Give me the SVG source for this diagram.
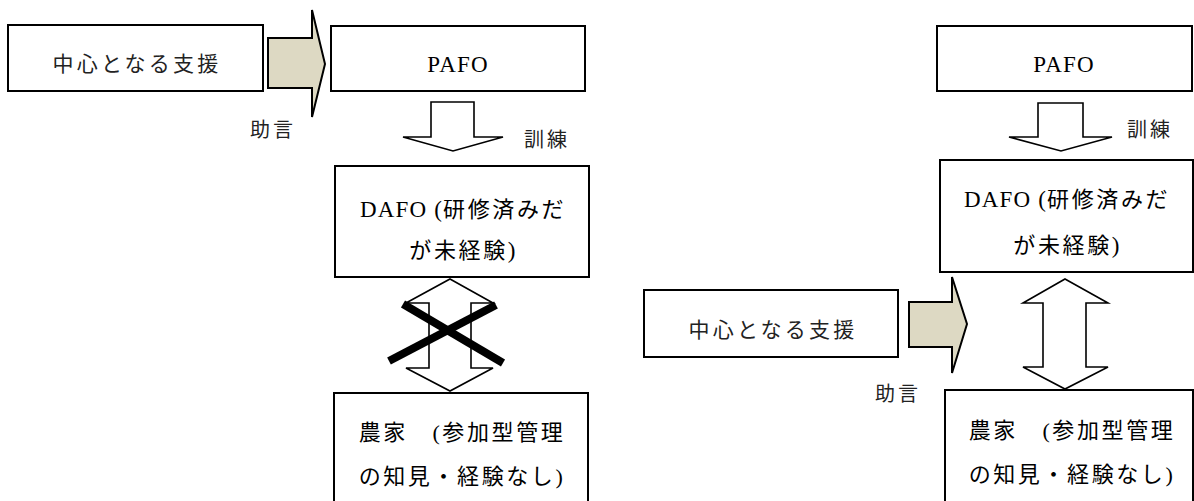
<svg xmlns="http://www.w3.org/2000/svg" width="1194" height="501" viewBox="0 0 1194 501">
<style>
.box{fill:#fff;stroke:#000;stroke-width:2}
.fat{fill:#DDD9C3;stroke:#000;stroke-width:2;stroke-linejoin:miter}
.hollow{fill:#fff;stroke:#000;stroke-width:1.6;stroke-linejoin:miter}
.cross{stroke:#000;stroke-width:8;stroke-linecap:butt}
.jp{font-family:"Liberation Serif","Noto Sans CJK JP",serif;font-size:22px;letter-spacing:2.6px;fill:#000}
.lat{font-size:23px;letter-spacing:1.2px}
.gs{font-family:"Noto Sans CJK JP","Liberation Sans",sans-serif;font-size:21px;letter-spacing:3.2px;fill:#222}
.lbl{font-family:"Noto Sans CJK JP","Liberation Sans",sans-serif;font-size:20px;letter-spacing:3px;fill:#222}
</style>
<rect width="1194" height="501" fill="#fff"/>

<!-- Left diagram -->
<g id="support-left">
<rect class="box" x="8" y="25" width="255" height="66"/>
<text class="gs" x="137" y="71" text-anchor="middle">中心となる支援</text>
</g>
<g id="pafo-left">
<rect class="box" x="331" y="26" width="254" height="65"/>
<text class="jp lat" x="458" y="72" text-anchor="middle">PAFO</text>
</g>
<g id="dafo-left">
<rect class="box" x="335" y="166" width="254" height="111"/>
<text class="jp" x="463" y="217" text-anchor="middle"><tspan class="lat">DAFO (</tspan>研修済みだ</text>
<text class="jp" x="463" y="258" text-anchor="middle">が未経験<tspan class="lat">)</tspan></text>
</g>
<g id="farmer-left">
<rect class="box" x="334" y="393" width="254" height="130"/>
<text class="jp" x="462" y="440" text-anchor="middle">農家　(参加型管理</text>
<text class="jp" x="462" y="484" text-anchor="middle">の知見・経験なし)</text>
</g>

<!-- Right diagram -->
<g id="pafo-right">
<rect class="box" x="937" y="26" width="255" height="65"/>
<text class="jp lat" x="1064" y="72" text-anchor="middle">PAFO</text>
</g>
<g id="dafo-right">
<rect class="box" x="940" y="160" width="253" height="112"/>
<text class="jp" x="1067" y="207" text-anchor="middle"><tspan class="lat">DAFO (</tspan>研修済みだ</text>
<text class="jp" x="1067" y="253" text-anchor="middle">が未経験<tspan class="lat">)</tspan></text>
</g>
<g id="support-right">
<rect class="box" x="644" y="290" width="254" height="67"/>
<text class="gs" x="773" y="337" text-anchor="middle">中心となる支援</text>
</g>
<g id="farmer-right">
<rect class="box" x="945" y="390" width="248" height="130"/>
<text class="jp" x="1072" y="438" text-anchor="middle">農家　(参加型管理</text>
<text class="jp" x="1072" y="482" text-anchor="middle">の知見・経験なし)</text>
</g>

<g id="connectors">
<!-- left: support -> PAFO -->
<polygon class="fat" points="268,38 312,38 312,10 325,64 312,117 312,88 268,88"/>
<text class="lbl" x="250" y="137">助言</text>
<!-- left: PAFO -> DAFO -->
<polygon class="hollow" points="431,102 474,102 474,137 503,137 453,151 403,137 431,137"/>
<text class="lbl" x="524" y="147">訓練</text>
<!-- left: DAFO <-> farmer (crossed out) -->
<polygon class="hollow" points="450,279 493,303 471,303 471,368 493,368 450,391 406,368 429,368 429,303 406,303"/>
<line class="cross" x1="403" y1="304" x2="503" y2="363"/>
<line class="cross" x1="496" y1="305" x2="389" y2="361"/>

<!-- right: PAFO -> DAFO -->
<polygon class="hollow" points="1038,103 1083,103 1083,137 1112,137 1061,151 1009,137 1038,137"/>
<text class="lbl" x="1127" y="137">訓練</text>
<!-- right: support arrow -->
<polygon class="fat" points="909,302 952,302 952,277 967,324 952,373 952,347 909,347"/>
<text class="lbl" x="875" y="401">助言</text>
<!-- right: DAFO <-> farmer -->
<polygon class="hollow" points="1065,279 1108,303 1086,303 1086,367 1108,367 1065,389 1023,367 1043,367 1043,303 1023,303"/>
</g>
</svg>
